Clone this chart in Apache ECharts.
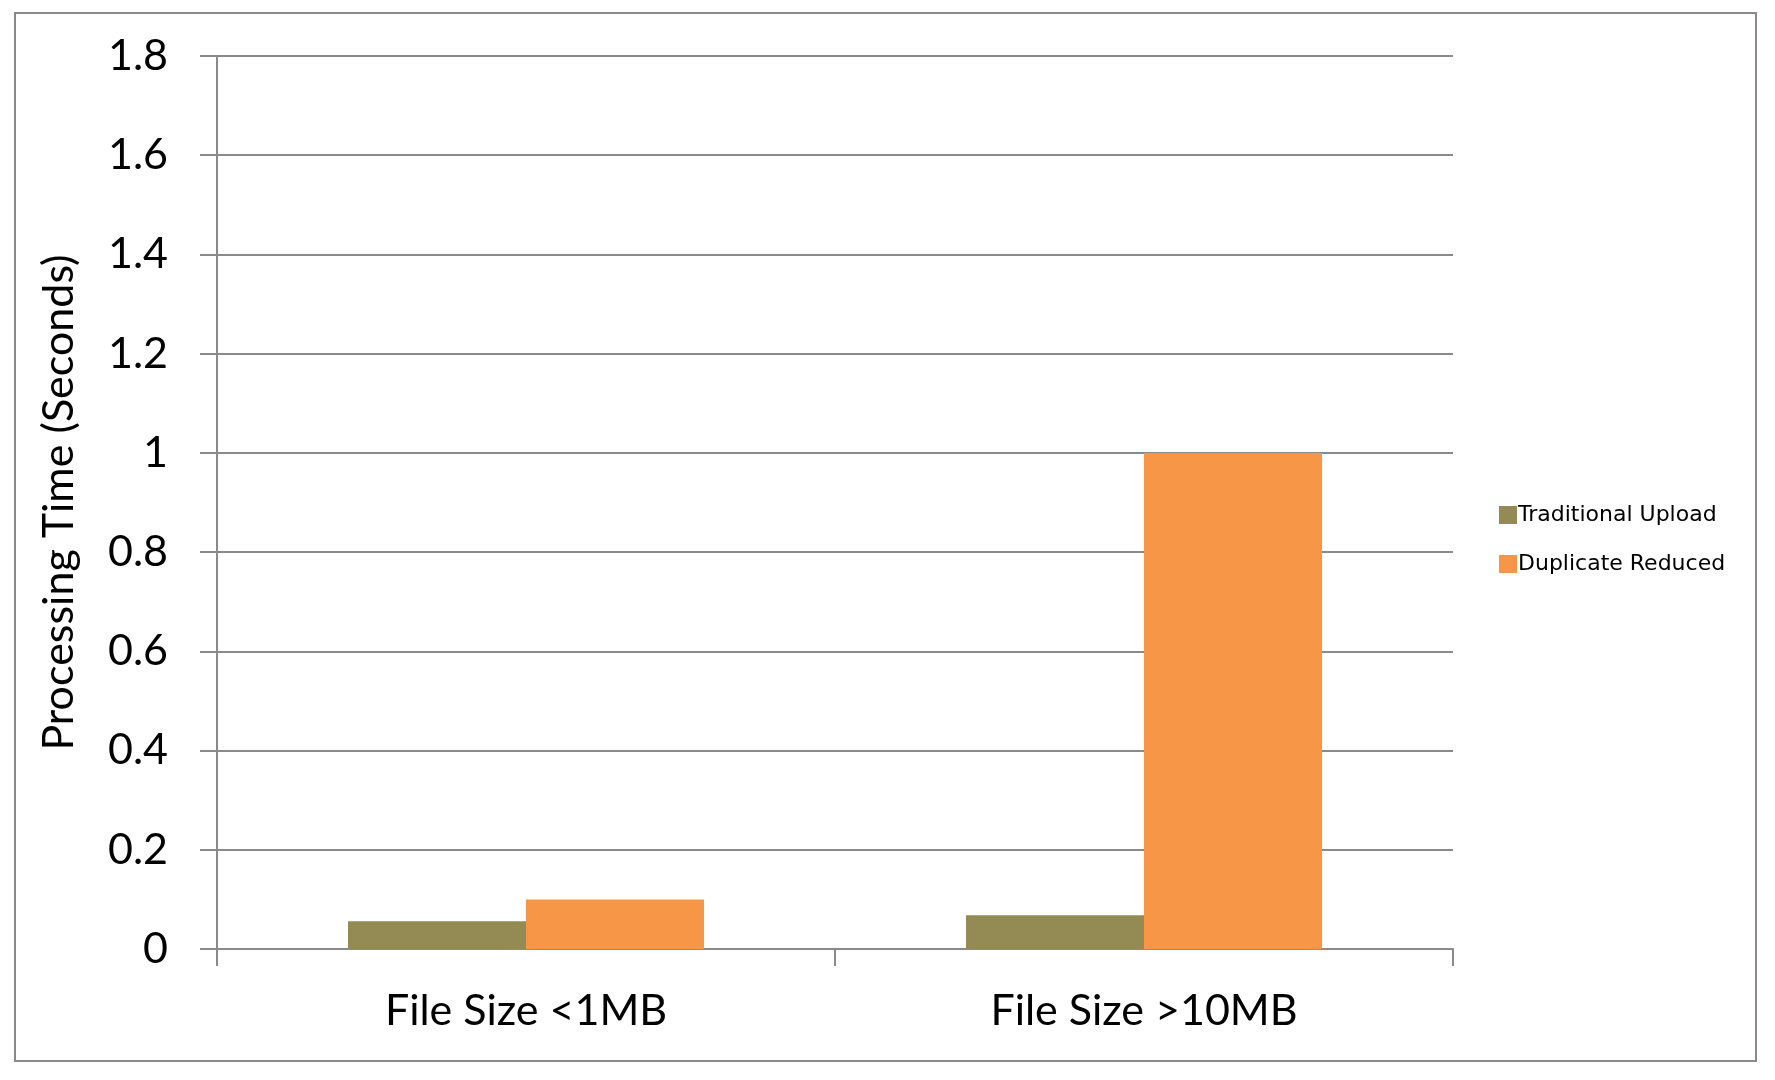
<!DOCTYPE html>
<html>
<head>
<meta charset="utf-8">
<script src="https://cdn.jsdelivr.net/npm/echarts@6/dist/echarts.min.js"></script>
<style>
  html, body { margin: 0; padding: 0; background: #fff; }
  #chart { width: 1775px; height: 1080px; }
</style>
</head>
<body>
<div id="chart"></div>
<script>
// 数据
const categories = ['File Size <1MB', 'File Size >10MB'];
const traditionalUpload = [0.056, 0.068];
const duplicateReduced = [0.1, 1.0];
const seriesNames = ['Traditional Upload', 'Duplicate Reduced'];

const lineColor = '#8a8a8a';
const colors = ['#948a54', '#f79646'];

const chart = echarts.init(document.getElementById('chart'));

const option = {
  backgroundColor: '#ffffff',
  animation: false,
  textStyle: { fontFamily: 'Lato' },
  graphic: [
    {
      type: 'rect',
      shape: { x: 15, y: 13, width: 1741, height: 1048 },
      style: { fill: 'none', stroke: lineColor, lineWidth: 2 },
      silent: true
    }
  ],
  legend: {
    data: seriesNames,
    orient: 'vertical',
    left: 1494,
    top: 499,
    itemWidth: 18,
    itemHeight: 18,
    itemGap: 27,
    icon: 'rect',
    textStyle: {
      fontFamily: 'DejaVu Sans',
      fontSize: 22,
      color: '#000',
      padding: [0, 0, 0, -4]
    }
  },
  grid: {
    left: 217,
    right: 322,
    top: 56,
    bottom: 131
  },
  xAxis: {
    type: 'category',
    data: categories,
    axisLine: { lineStyle: { color: lineColor, width: 2 } },
    axisTick: { show: true, length: 17, lineStyle: { color: lineColor, width: 2 } },
    axisLabel: {
      color: '#000',
      fontSize: 43,
      fontFamily: 'Lato',
      margin: 41
    },
    splitLine: { show: false }
  },
  yAxis: {
    type: 'value',
    min: 0,
    max: 1.8,
    interval: 0.2,
    name: 'Processing Time (Seconds)',
    nameLocation: 'middle',
    nameGap: 136,
    nameTextStyle: {
      color: '#000',
      fontSize: 43,
      fontFamily: 'Lato'
    },
    axisLine: { show: true, lineStyle: { color: lineColor, width: 2 } },
    axisTick: { show: true, length: 17, lineStyle: { color: lineColor, width: 2 } },
    axisLabel: {
      color: '#000',
      fontSize: 43,
      fontFamily: 'Lato',
      margin: 49,
      formatter: (v) => String(Math.round(v * 10) / 10)
    },
    splitLine: { show: true, lineStyle: { color: lineColor, width: 2 } }
  },
  series: [
    {
      name: seriesNames[0],
      type: 'bar',
      data: traditionalUpload,
      itemStyle: { color: colors[0] },
      barWidth: 178,
      barGap: '0%'
    },
    {
      name: seriesNames[1],
      type: 'bar',
      data: duplicateReduced,
      itemStyle: { color: colors[1] },
      barWidth: 178,
      barGap: '0%'
    }
  ]
};

chart.setOption(option);
</script>
</body>
</html>
